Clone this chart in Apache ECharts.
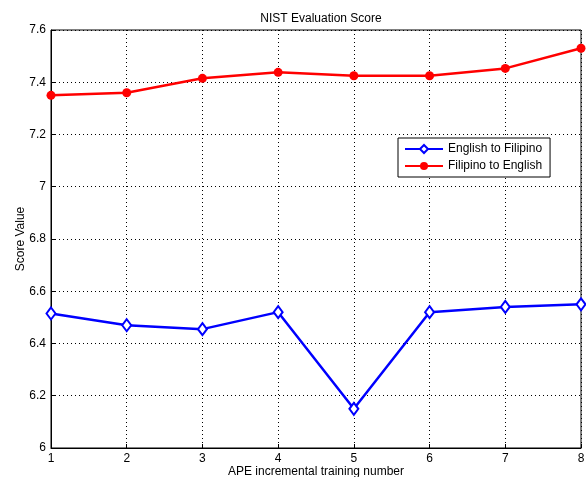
<!DOCTYPE html>
<html>
<head>
<meta charset="utf-8">
<script src="https://cdn.jsdelivr.net/npm/echarts@6/dist/echarts.min.js"></script>
<style>
html,body{margin:0;padding:0;background:#fff;}
#chart{width:586px;height:477px;}
</style>
</head>
<body>
<div id="chart"></div>
<script>
// APE incremental training runs and NIST scores per translation direction
const trainingNumbers = [1, 2, 3, 4, 5, 6, 7, 8];
const englishToFilipino = [6.515, 6.47, 6.455, 6.52, 6.15, 6.52, 6.54, 6.55];
const filipinoToEnglish = [7.35, 7.36, 7.415, 7.438, 7.425, 7.425, 7.453, 7.53];

const font = 'Liberation Sans, Arial, Helvetica, sans-serif';
const pairs = (ys) => trainingNumbers.map((x, i) => [x, ys[i]]);

const chart = echarts.init(document.getElementById('chart'), null, { renderer: 'canvas' });
chart.setOption({
  backgroundColor: '#fff',
  animation: false,
  title: {
    text: 'NIST Evaluation Score',
    left: 316, top: 8, textAlign: 'center',
    textStyle: { fontFamily: font, fontSize: 12, fontWeight: 'normal', color: '#000' }
  },
  grid: {
    left: 51, right: 5, top: 30, bottom: 29,
    outerBoundsMode: 'none', containLabel: false,
    show: true, borderColor: '#000', borderWidth: 1, backgroundColor: 'transparent'
  },
  legend: {
    orient: 'vertical',
    left: 398, top: 138,
    backgroundColor: '#fff',
    borderColor: '#000', borderWidth: 1, borderRadius: 0,
    padding: [5, 8, 5, 6],
    itemGap: 5, itemWidth: 38, itemHeight: 10,
    textStyle: { fontFamily: font, fontSize: 12, color: '#000' },
    data: ['English to Filipino', 'Filipino to English']
  },
  xAxis: {
    type: 'value', min: 1, max: 8, interval: 1,
    name: 'APE incremental training number',
    nameLocation: 'middle', nameGap: 18, nameMoveOverlap: false,
    nameTextStyle: { fontFamily: font, fontSize: 12, color: '#000' },
    axisLine: { show: true, lineStyle: { color: '#000', width: 1 } },
    axisTick: { show: true, inside: true, length: 4, lineStyle: { color: '#000' } },
    axisLabel: { fontFamily: font, fontSize: 12, color: '#000', margin: 5 },
    splitLine: { show: true, lineStyle: { color: '#000', type: [1, 3], width: 1 } }
  },
  yAxis: {
    type: 'value', min: 6, max: 7.6, interval: 0.2,
    name: 'Score Value',
    nameLocation: 'middle', nameGap: 24, nameRotate: 90, nameMoveOverlap: false,
    nameTextStyle: { fontFamily: font, fontSize: 12, color: '#000' },
    axisLine: { show: true, lineStyle: { color: '#000', width: 1 } },
    axisTick: { show: true, inside: true, length: 4, lineStyle: { color: '#000' } },
    axisLabel: {
      fontFamily: font, fontSize: 12, color: '#000', margin: 5,
      formatter: (v) => String(parseFloat(v.toFixed(1)))
    },
    splitLine: { show: true, lineStyle: { color: '#000', type: [1, 3], width: 1 } }
  },
  series: [
    {
      name: 'English to Filipino',
      type: 'line',
      data: pairs(englishToFilipino),
      symbol: 'emptyDiamond', symbolSize: [9, 12],
      lineStyle: { color: '#0000ff', width: 2.5 },
      itemStyle: { color: '#0000ff', borderColor: '#0000ff', borderWidth: 2 }
    },
    {
      name: 'Filipino to English',
      type: 'line',
      data: pairs(filipinoToEnglish),
      symbol: 'circle', symbolSize: 9,
      lineStyle: { color: '#ff0000', width: 2.5 },
      itemStyle: { color: '#ff0000' }
    }
  ]
});
</script>
</body>
</html>
